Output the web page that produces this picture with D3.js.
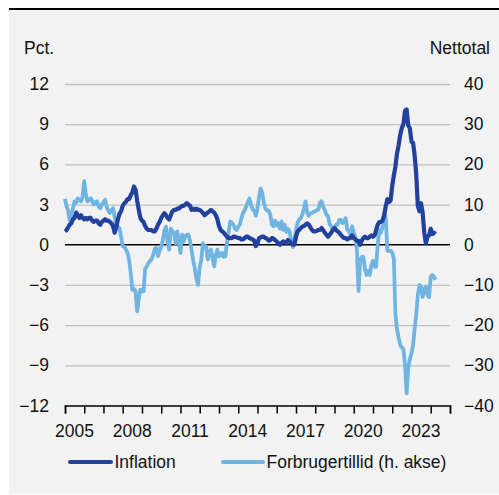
<!DOCTYPE html>
<html>
<head>
<meta charset="utf-8">
<script src="https://cdn.jsdelivr.net/npm/d3@7"></script>
<style>
body { margin: 0; background: #fff; }
svg text { font-family: "Liberation Sans", Arial, sans-serif; font-size: 17.5px; fill: #111; }
</style>
</head>
<body>
<svg id="chart" width="499" height="495"></svg>
<script>
// monthly values, jan 2005 - apr 2024
var inflation = [
	1.0, 1.1, 1.3, 1.5, 1.6, 1.9, 2.0, 2.4, 2.2, 2.0, 2.2, 2.0,
	1.9, 2.0, 1.9, 2.0, 2.0, 1.8, 1.7, 1.8, 1.8, 1.6, 1.5, 1.7,
	1.8, 1.9, 1.8, 1.8, 1.7, 1.6, 1.4, 0.9, 1.3, 1.9, 2.3, 2.5,
	2.9, 3.1, 3.2, 3.4, 3.4, 3.7, 3.9, 4.35, 4.1, 3.3, 2.6, 2.0,
	1.8, 1.7, 1.4, 1.2, 1.1, 1.1, 1.1, 1.0, 1.0, 1.2, 1.5, 1.7,
	2.0, 2.2, 2.36, 2.2, 2.0, 1.9, 2.2, 2.5, 2.6, 2.6, 2.7, 2.7,
	2.8, 2.9, 2.9, 3.0, 3.1, 3.0, 2.9, 2.6, 2.7, 2.6, 2.7, 2.6,
	2.6, 2.5, 2.4, 2.2, 2.3, 2.4, 2.5, 2.6, 2.5, 2.4, 2.2, 1.9,
	1.4, 1.1, 1.0, 0.9, 0.75, 0.6, 0.5, 0.5, 0.5, 0.6, 0.6, 0.55,
	0.5, 0.5, 0.4, 0.4, 0.5, 0.6, 0.6, 0.5, 0.45, 0.4, 0.3, -0.1,
	0.1, 0.5, 0.55, 0.6, 0.6, 0.5, 0.45, 0.3, 0.35, 0.5, 0.45, 0.35,
	0.25, 0.1, 0.0, 0.15, 0.25, 0.2, 0.1, 0.35, 0.25, 0.15, 0.0, 0.0,
	0.6, 1.0, 1.1, 1.25, 1.35, 1.4, 1.5, 1.6, 1.5, 1.3, 1.1, 1.0,
	1.0, 1.05, 1.1, 1.1, 1.25, 1.1, 0.9, 0.75, 0.6, 0.75, 0.9, 1.1,
	1.25, 1.1, 1.0, 0.9, 0.75, 0.6, 0.5, 0.5, 0.4, 0.5, 0.5, 0.7,
	0.5, 0.4, 0.3, 0.3, 0.0, 0.3, 0.5, 0.6, 0.5, 0.5, 0.6, 0.7,
	0.6, 0.7, 1.1, 1.5, 1.7, 1.7, 1.8, 2.2, 2.9, 3.4, 3.2, 3.3,
	4.4, 5.2, 5.8, 6.8, 7.4, 8.2, 8.7, 9.0, 10.0, 10.1, 8.9, 8.7,
	7.7, 7.6, 6.7, 5.3, 2.9, 2.5, 3.1, 2.4, 0.9, 0.1, 0.6, 0.7,
	1.2, 0.8, 0.9, 0.8
];
var forbrugertillid = [
	11.4, 9.5, 8.5, 6.0, 7.5, 9.0, 10.8, 10.5, 11.5, 11.2, 10.8, 12.0,
	15.8, 12.5, 10.8, 11.0, 11.6, 11.0, 10.0, 10.5, 10.8, 9.5, 9.1, 10.0,
	10.5, 11.2, 9.5, 8.5, 7.9, 8.5, 9.1, 7.0, 5.0, 4.5, 4.1, 2.0,
	-0.4, -0.5, -1.2, -2.0, -3.7, -7.0, -11.2, -11.0, -11.6, -16.6, -13.5, -11.2,
	-11.5, -11.6, -6.0, -5.4, -4.6, -4.0, -3.7, -2.5, -1.0, -0.8, -2.8, -1.5,
	-0.5, 1.2, 3.5, 4.5, 0.5, -1.2, 4.0, 3.3, 3.0, 0.4, 3.3, 0.5,
	-2.0, 2.5, 0.8, 2.1, 2.5, 2.5, 1.0, -1.5, -4.0, -6.0, -8.5, -10.0,
	-5.5, -3.7, 0.4, -0.5, -0.4, -3.7, -2.0, -1.2, -3.5, -5.4, -2.5, -1.2,
	-2.9, -2.5, -2.0, -3.0, -2.9, 0.5, 3.0, 5.8, 5.5, 5.0, 4.0, 3.7,
	4.5, 5.0, 6.5, 7.9, 8.5, 9.5, 10.5, 11.5, 10.0, 8.8, 8.5, 7.2,
	9.0, 12.0, 14.0, 13.0, 10.5, 9.0, 8.5, 8.5, 7.5, 5.0, 4.6, 6.0,
	4.8, 5.4, 4.0, 5.8, 3.7, 5.0, 3.2, 4.0, 3.3, 1.2, -0.6, 1.0,
	3.7, 5.5, 6.2, 6.6, 7.5, 9.0, 10.8, 8.0, 7.2, 7.8, 7.9, 8.2,
	8.3, 8.7, 8.7, 10.5, 10.8, 9.5, 8.7, 7.5, 7.1, 5.2, 4.6, 3.7,
	4.1, 5.0, 5.0, 6.2, 6.2, 5.4, 5.8, 6.6, 3.7, 3.5, 2.5, 4.6,
	3.0, 2.0, -1.0, -11.5, -4.0, -3.0, -3.0, -6.0, -7.5, -6.5, -7.5, -5.0,
	-4.0, -5.5, -5.5, 0.0, 3.7, 3.0, 4.5, 8.0, 6.5, -1.5, -1.5, -1.5,
	-2.0, -3.5, -17.0, -21.0, -23.0, -25.0, -25.5, -26.0, -30.0, -37.0, -30.5, -28.5,
	-27.0, -25.0, -21.0, -17.5, -12.5, -10.0, -10.5, -13.0, -11.0, -10.5, -12.5, -13.0,
	-8.0, -7.5, -8.0, -8.7
];
var startYear = 2005, endYear = 2025;
var leftTicks = [-12, -9, -6, -3, 0, 3, 6, 9, 12];
var rightTicks = [-40, -30, -20, -10, 0, 10, 20, 30, 40];
var yearLabels = [2005, 2008, 2011, 2014, 2017, 2020, 2023];
var seriesNames = ["Inflation", "Forbrugertillid (h. akse)"];
var colors = ["#22419c", "#70b4e2"];

(function () {
	var svg = d3.select("#chart");
	var margin = {top: 84, right: 49, bottom: 89.5, left: 65},
		width = +svg.attr("width") - margin.left - margin.right,
		height = +svg.attr("height") - margin.top - margin.bottom;

	// panel background
	svg.append("rect").attr("x", 9).attr("y", 10).attr("width", 490).attr("height", 484).attr("fill", "#f2f2f2");
	svg.append("rect").attr("x", 9).attr("y", 8).attr("width", 490).attr("height", 2).attr("fill", "#000");

	var g = svg.append("g").attr("transform", "translate(" + margin.left + "," + margin.top + ")");

	var months = d3.range(inflation.length).map(function (i) { return new Date(startYear, i, 1); });

	var x = d3.scaleTime()
		.domain([new Date(startYear, 0, 1), new Date(endYear, 0, 1)])
		.range([0, width]);
	var yLeft = d3.scaleLinear().domain([-12, 12]).range([height, 0]);
	var yRight = d3.scaleLinear().domain([-40, 40]).range([height, 0]);

	// grid + left labels
	var gl = g.append("g")
		.call(d3.axisLeft(yLeft).tickValues(leftTicks).tickSize(-width).tickPadding(16));
	gl.select(".domain").remove();
	gl.selectAll(".tick line").attr("stroke", "#c0c0c0").attr("stroke-width", 1.3)
		.filter(function (d) { return d === 0 || d === -12; }).attr("stroke", "none");

	var gr = g.append("g")
		.attr("transform", "translate(" + width + ",0)")
		.call(d3.axisRight(yRight).tickValues(rightTicks).tickSize(0).tickPadding(14));
	gr.select(".domain").remove();

	// zero line
	g.append("line")
		.attr("x1", 0).attr("x2", width)
		.attr("y1", yLeft(0)).attr("y2", yLeft(0))
		.attr("stroke", "#000").attr("stroke-width", 1.3);

	// x axis
	var gx = g.append("g")
		.attr("transform", "translate(0," + height + ")")
		.call(d3.axisBottom(x).ticks(d3.timeYear.every(1)).tickSize(8).tickFormat(""));
	gx.select(".domain").attr("stroke", "#000").attr("stroke-width", 1.5);
	gx.selectAll(".tick line").attr("stroke", "#000").attr("stroke-width", 1.5);

	g.selectAll(".year-label")
		.data(yearLabels)
		.enter().append("text")
		.attr("class", "year-label")
		.attr("x", function (d) { return x(new Date(d, 6, 1)); })
		.attr("y", height + 31.5)
		.attr("text-anchor", "middle")
		.text(function (d) { return d; });

	// unit labels
	svg.append("text").attr("x", 24).attr("y", 54).text("Pct.");
	svg.append("text").attr("x", 490).attr("y", 54).attr("text-anchor", "end").text("Nettotal");

	// lines (confidence underneath, inflation on top)
	var lineLeft = d3.line()
		.x(function (d, i) { return x(months[i]); })
		.y(function (d) { return yLeft(d); });
	var lineRight = d3.line()
		.x(function (d, i) { return x(months[i]); })
		.y(function (d) { return yRight(d); });

	g.append("path")
		.datum(forbrugertillid)
		.attr("fill", "none")
		.attr("stroke", colors[1])
		.attr("stroke-width", 3.8)
		.attr("stroke-linejoin", "round")
		.attr("d", lineRight);

	g.append("path")
		.datum(inflation)
		.attr("fill", "none")
		.attr("stroke", colors[0])
		.attr("stroke-width", 4.2)
		.attr("stroke-linejoin", "round")
		.attr("d", lineLeft);

	// legend
	var legendPos = [{x1: 70, x2: 111}, {x1: 223, x2: 263}];
	var lg = svg.append("g");
	lg.selectAll("line")
		.data(seriesNames)
		.enter().append("line")
		.attr("x1", function (d, i) { return legendPos[i].x1; })
		.attr("x2", function (d, i) { return legendPos[i].x2; })
		.attr("y1", 462).attr("y2", 462)
		.attr("stroke", function (d, i) { return colors[i]; })
		.attr("stroke-width", 4)
		.attr("stroke-linecap", "round");
	lg.selectAll("text")
		.data(seriesNames)
		.enter().append("text")
		.attr("x", function (d, i) { return legendPos[i].x2 + 3.5; })
		.attr("y", 468)
		.text(function (d) { return d; });
})();
</script>
</body>
</html>
